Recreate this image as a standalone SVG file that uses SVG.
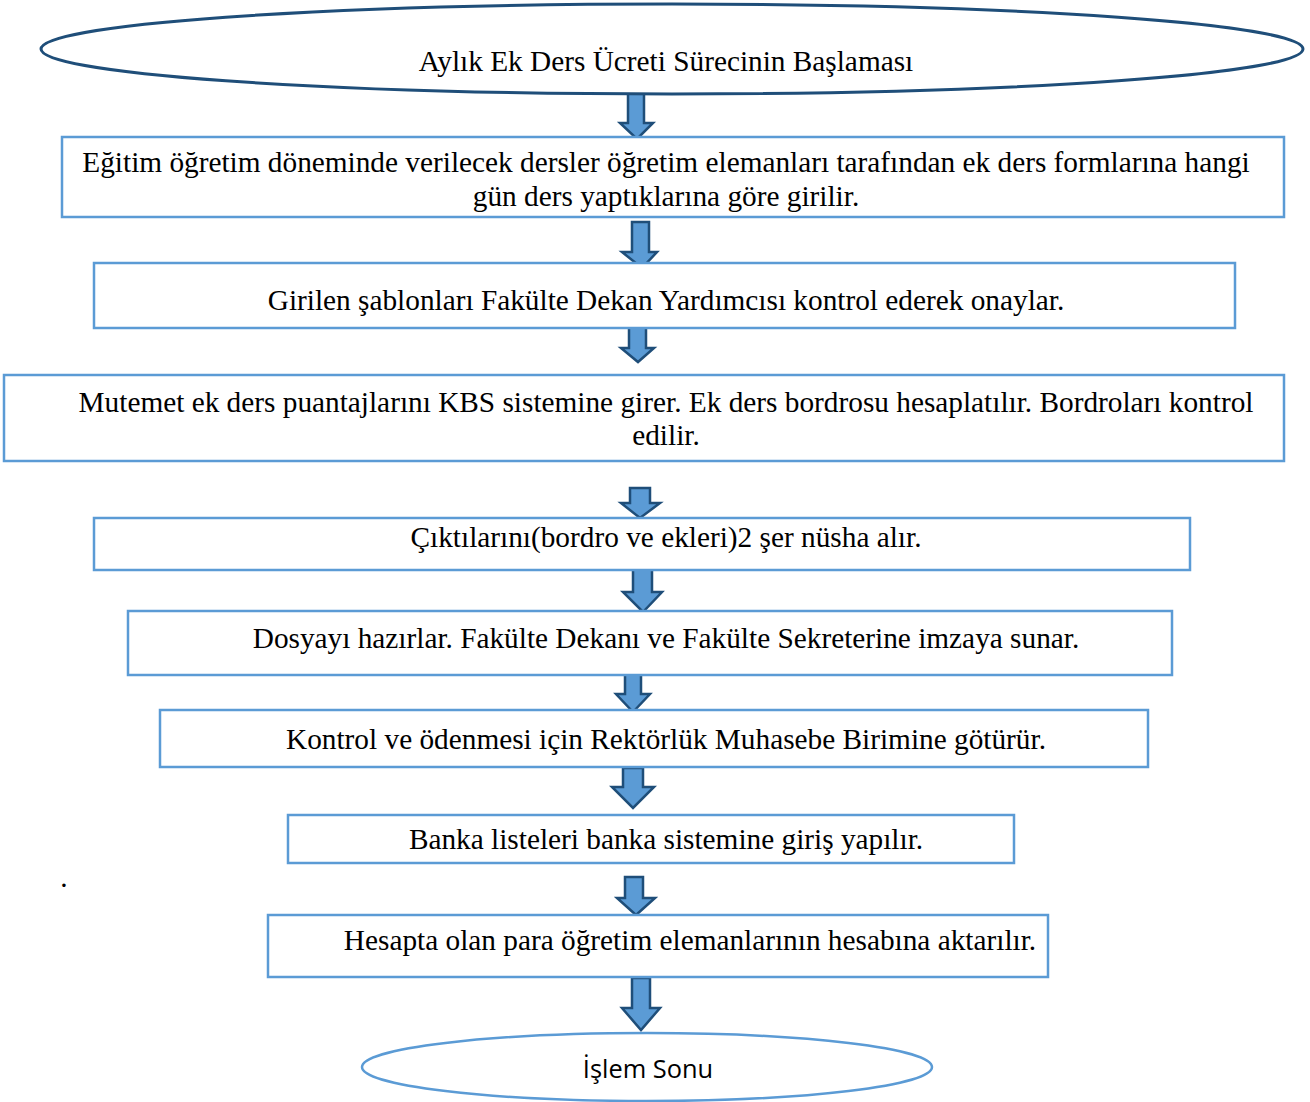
<svg xmlns="http://www.w3.org/2000/svg" width="1310" height="1102" viewBox="0 0 1310 1102">
  <defs>
    <style>
      .box { fill: #ffffff; stroke: #5b9bd5; stroke-width: 2.5; }
      .start { fill: #ffffff; stroke: #1f4e79; stroke-width: 3; }
      .end { fill: #ffffff; stroke: #5b9bd5; stroke-width: 2.5; }
      .arrow { fill: #5b9bd5; stroke: #1f4e79; stroke-width: 2.5; stroke-linejoin: miter; }
      .t { font-family: "Liberation Serif", "Times New Roman", serif; font-size: 29.3px; fill: #000000; text-anchor: middle; }
      .ts { font-family: "Open Sans", "Noto Sans", sans-serif; font-size: 25.4px; fill: #000000; text-anchor: middle; }
    </style>
  </defs>
  <rect width="1310" height="1102" fill="#ffffff"/>

  <g id="connectors">
    <polygon class="arrow" points="628,91 644,91 644,123 653,123 637,139 620,123 628,123"/>
    <polygon class="arrow" points="632,222 649,222 649,252 657,252 642,268 622,252 632,252"/>
    <polygon class="arrow" points="629,327 646,327 646,348 654,348 638,362 621,348 629,348"/>
    <polygon class="arrow" points="630,488 650,488 650,503 660,503 640,518 621,503 630,503"/>
    <polygon class="arrow" points="633,568 652,568 652,592 662,592 643,612 623,592 633,592"/>
    <polygon class="arrow" points="625,673 641,673 641,694 650,694 633,712 616,694 625,694"/>
    <polygon class="arrow" points="623,768 643,768 643,787 654,787 633,808 612,787 623,787"/>
    <polygon class="arrow" points="625,877 643,877 643,898 655,898 636,915 617,898 625,898"/>
    <polygon class="arrow" points="632,978 650,978 650,1008 660,1008 641,1030 622,1008 632,1008"/>
  </g>

  <g id="start">
    <ellipse class="start" cx="672" cy="49" rx="631" ry="45"/>
    <text class="t" x="666" y="71">Aylık Ek Ders Ücreti Sürecinin Başlaması</text>
  </g>

  <g id="step1">
    <rect class="box" x="62" y="137" width="1222" height="80"/>
    <text class="t" x="666" y="172">Eğitim öğretim döneminde verilecek dersler öğretim elemanları tarafından ek ders formlarına hangi</text>
    <text class="t" x="666" y="206">gün ders yaptıklarına göre girilir.</text>
  </g>

  <g id="step2">
    <rect class="box" x="94" y="263" width="1141" height="65"/>
    <text class="t" x="666" y="310">Girilen şablonları Fakülte Dekan Yardımcısı kontrol ederek onaylar.</text>
  </g>

  <g id="step3">
    <rect class="box" x="4" y="375" width="1280" height="86"/>
    <text class="t" x="666" y="412">Mutemet ek ders puantajlarını KBS sistemine girer. Ek ders bordrosu hesaplatılır. Bordroları kontrol</text>
    <text class="t" x="666" y="445">edilir.</text>
  </g>

  <g id="step4">
    <rect class="box" x="94" y="518" width="1096" height="52"/>
    <text class="t" x="666" y="547">Çıktılarını(bordro ve ekleri)2 şer nüsha alır.</text>
  </g>

  <g id="step5">
    <rect class="box" x="128" y="611" width="1044" height="64"/>
    <text class="t" x="666" y="648">Dosyayı hazırlar. Fakülte Dekanı ve Fakülte Sekreterine imzaya sunar.</text>
  </g>

  <g id="step6">
    <rect class="box" x="160" y="710" width="988" height="57"/>
    <text class="t" x="666" y="749">Kontrol ve ödenmesi için Rektörlük Muhasebe Birimine götürür.</text>
  </g>

  <g id="step7">
    <rect class="box" x="288" y="815" width="726" height="48"/>
    <text class="t" x="666" y="849">Banka listeleri banka sistemine giriş yapılır.</text>
  </g>

  <text class="t" x="64" y="887">.</text>

  <g id="step8">
    <rect class="box" x="268" y="915" width="780" height="62"/>
    <text class="t" x="690" y="950">Hesapta olan para öğretim elemanlarının hesabına aktarılır.</text>
  </g>

  <g id="end">
    <ellipse class="end" cx="647" cy="1067" rx="285" ry="34"/>
    <text class="ts" x="648" y="1078">İşlem Sonu</text>
  </g>
</svg>
